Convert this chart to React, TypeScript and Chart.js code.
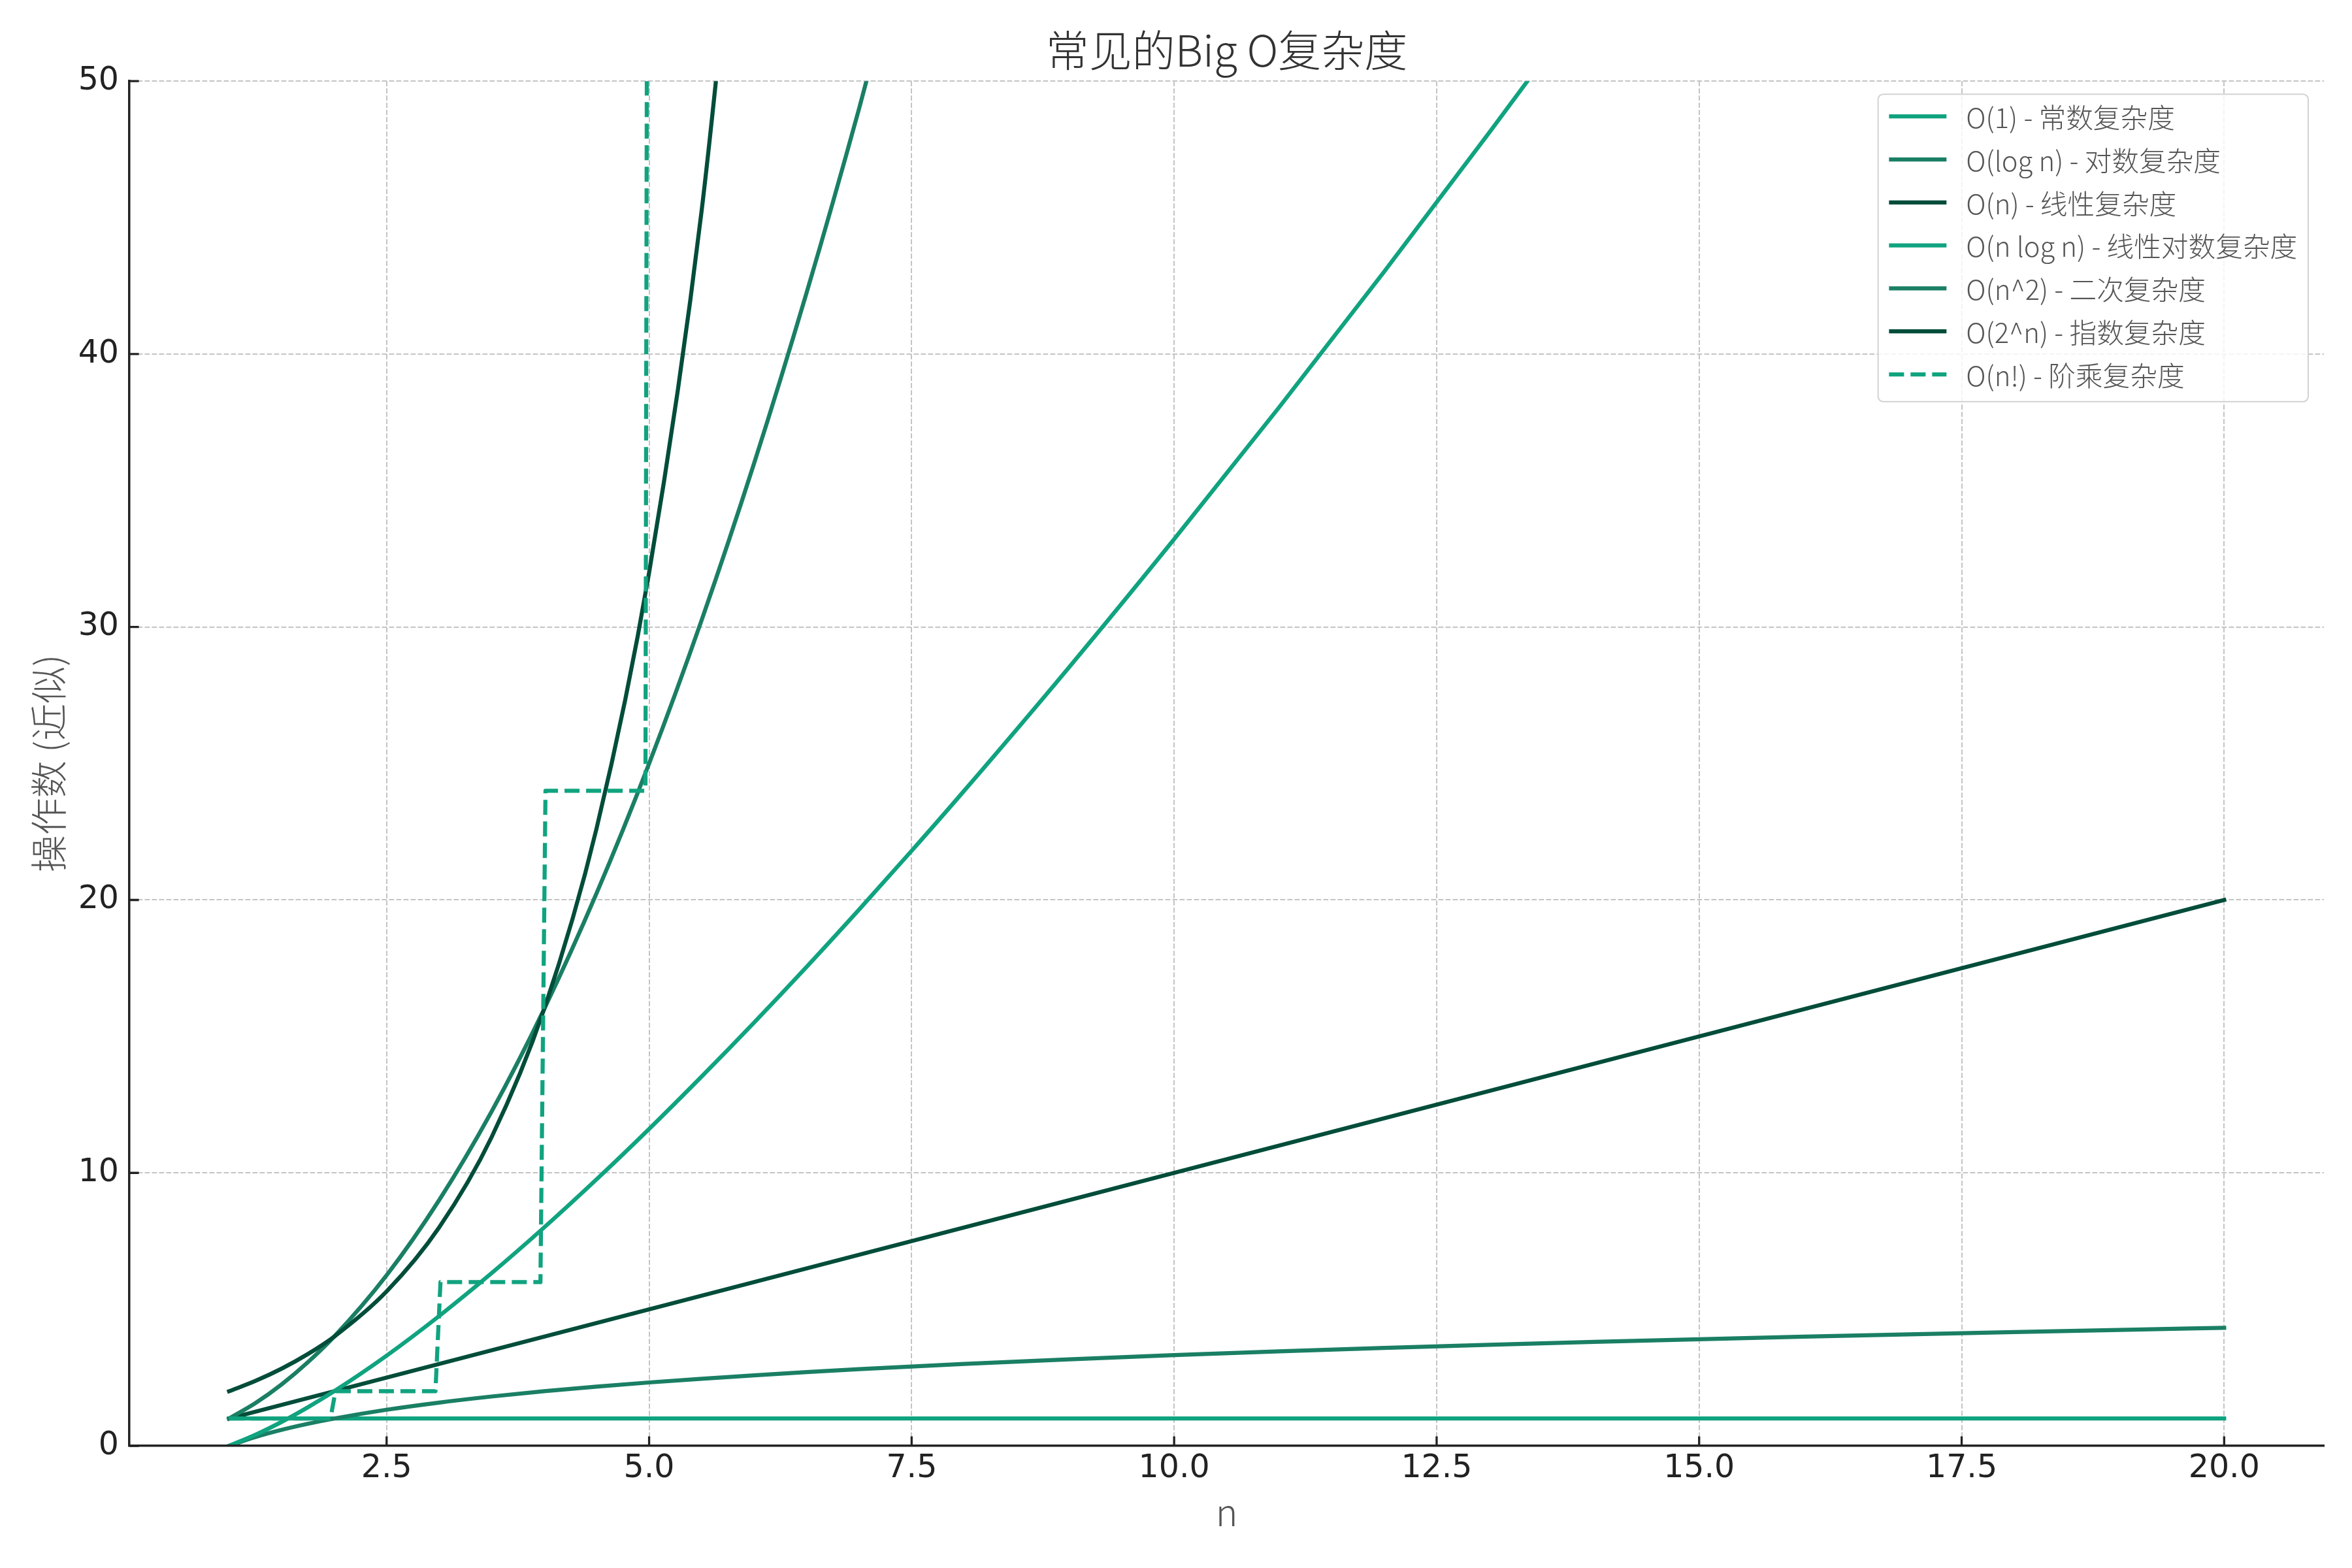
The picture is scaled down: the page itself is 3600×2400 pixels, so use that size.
import React, { useEffect, useRef } from 'react';
import { Chart, registerables } from 'chart.js';

Chart.register(...registerables);

// n positions at which the growing curves are sampled
const nGrid = [1, 1.25, 1.5, 1.75, 2, 2.5, 3, 3.5, 4, 4.5, 5, 5.5, 6, 6.5, 7, 7.5, 8, 9, 10, 11, 12, 13, 14, 15, 16, 17, 18, 19, 20];

// operation counts per complexity class
const constantN = [1, 20];
const constantOps = [1, 1];
const linearN = [1, 20];
const linearOps = [1, 20];
const logOps = [0, 0.322, 0.585, 0.807, 1, 1.322, 1.585, 1.807, 2, 2.17, 2.322, 2.459, 2.585, 2.7, 2.807, 2.907, 3, 3.17, 3.322, 3.459, 3.585, 3.7, 3.807, 3.907, 4, 4.087, 4.17, 4.248, 4.322];
const nLogNOps = [0, 0.403, 0.877, 1.413, 2, 3.305, 4.755, 6.326, 8, 9.765, 11.61, 13.53, 15.51, 17.55, 19.65, 21.8, 24, 28.53, 33.22, 38.05, 43.02, 48.11, 53.3];
const squareOps = [1, 1.563, 2.25, 3.063, 4, 6.25, 9, 12.25, 16, 20.25, 25, 30.25, 36, 42.25, 49, 56.25];
const expOps = [2, 2.378, 2.828, 3.364, 4, 5.657, 8, 11.31, 16, 22.63, 32, 45.25, 64];
const factorialN = [1, 1.965, 2.013, 2.965, 3.013, 3.965, 4.013, 4.965, 5.013];
const factorialOps = [1, 1, 2, 2, 6, 6, 24, 24, 120];

const seriesLabels = [
  'O(1) - 常数复杂度',
  'O(log n) - 对数复杂度',
  'O(n) - 线性复杂度',
  'O(n log n) - 线性对数复杂度',
  'O(n^2) - 二次复杂度',
  'O(2^n) - 指数复杂度',
  'O(n!) - 阶乘复杂度',
];

const xTicks = [2.5, 5, 7.5, 10, 12.5, 15, 17.5, 20];
const yTicks = [0, 10, 20, 30, 40, 50];

const titleText = '常见的Big O复杂度';
const xLabel = 'n';
const yLabel = '操作数 (近似)';

const palette = ['#10a37f', '#1a7f64', '#004d3a'];

const CJK = '"Noto Sans CJK SC", "Noto Sans", sans-serif';
const TICK_FONT = '"DejaVu Sans", sans-serif';

const pair = (xs: number[], ys: number[]) => ys.map((y, i) => ({ x: xs[i], y }));

// matplotlib-like inward tick marks on the left and bottom spines
const inwardTicks = {
  id: 'inwardTicks',
  afterDatasetsDraw(chart: any) {
    const { ctx, chartArea, scales } = chart;
    ctx.save();
    ctx.strokeStyle = '#222222';
    ctx.lineWidth = 3.3;
    ctx.beginPath();
    for (const t of scales.x.ticks) {
      const px = scales.x.getPixelForValue(t.value);
      ctx.moveTo(px, chartArea.bottom);
      ctx.lineTo(px, chartArea.bottom - 14.6);
    }
    for (const t of scales.y.ticks) {
      const py = scales.y.getPixelForValue(t.value);
      ctx.moveTo(chartArea.left, py);
      ctx.lineTo(chartArea.left + 14.6, py);
    }
    ctx.stroke();
    ctx.restore();
  },
};

// framed legend in the upper-right corner of the plot
const framedLegend = {
  id: 'framedLegend',
  afterDraw(chart: any) {
    const { ctx, chartArea } = chart;
    const items = chart.data.datasets;
    const fs = 41.7;
    ctx.save();
    ctx.font = `300 ${fs}px ${CJK}`;
    const textW = Math.max(...items.map((d: any) => ctx.measureText(d.label).width));
    const pad = 16.7;
    const handleLen = 88;
    const gap = 30;
    const rowH = 65.8;
    const right = chartArea.right - 24;
    const top = chartArea.top + 20;
    const boxW = pad + handleLen + gap + textW + pad;
    const boxH = rowH * items.length + 10;
    const left = right - boxW;

    ctx.beginPath();
    ctx.roundRect(left, top, boxW, boxH, 8);
    ctx.fillStyle = 'rgba(255,255,255,0.82)';
    ctx.fill();
    ctx.lineWidth = 2;
    ctx.strokeStyle = '#d2d2d2';
    ctx.stroke();

    items.forEach((d: any, i: number) => {
      const cy = top + 34 + i * rowH;
      ctx.beginPath();
      ctx.setLineDash(d.borderDash || []);
      ctx.lineCap = 'butt';
      ctx.lineWidth = d.borderWidth;
      ctx.strokeStyle = d.borderColor;
      ctx.moveTo(left + pad, cy);
      ctx.lineTo(left + pad + handleLen, cy);
      ctx.stroke();
      ctx.setLineDash([]);
      ctx.fillStyle = '#555555';
      ctx.textBaseline = 'middle';
      ctx.textAlign = 'left';
      ctx.fillText(d.label, left + pad + handleLen + gap, cy + 2);
    });
    ctx.restore();
  },
};

export default function App() {
  const canvasRef = useRef<HTMLCanvasElement | null>(null);

  useEffect(() => {
    document.body.style.margin = '0';
    const canvas = canvasRef.current;
    if (!canvas) return;

    const seriesPoints = [
      pair(constantN, constantOps),
      pair(nGrid, logOps),
      pair(linearN, linearOps),
      pair(nGrid, nLogNOps),
      pair(nGrid, squareOps),
      pair(nGrid, expOps),
      pair(factorialN, factorialOps),
    ];

    const datasets = seriesPoints.map((pts, i) => {
      const dashed = i === 6;
      return {
        label: seriesLabels[i],
        data: pts,
        borderColor: palette[i % 3],
        backgroundColor: palette[i % 3],
        borderWidth: 6.25,
        borderDash: dashed ? [23, 10] : [],
        borderCapStyle: dashed ? 'butt' : 'square',
        borderJoinStyle: 'round',
        pointRadius: 0,
        pointHoverRadius: 0,
        fill: false,
        cubicInterpolationMode: dashed ? 'default' : 'monotone',
        tension: 0,
        order: seriesPoints.length - i,
      };
    });

    const chart = new Chart(canvas, {
      type: 'line',
      data: { datasets } as any,
      plugins: [inwardTicks, framedLegend],
      options: {
        animation: false,
        responsive: false,
        maintainAspectRatio: false,
        devicePixelRatio: 1,
        layout: { padding: { left: 0, right: 43, top: 0, bottom: 0 } },
        plugins: {
          legend: { display: false },
          tooltip: { enabled: false },
          title: {
            display: true,
            fullSize: false,
            text: titleText,
            color: '#333333',
            font: { family: CJK, size: 66, weight: '300' as any },
            padding: { top: 37, bottom: 8 },
          },
        },
        scales: {
          x: {
            type: 'linear',
            min: 0.05,
            max: 20.95,
            afterBuildTicks: (scale: any) => {
              scale.ticks = xTicks.map((value) => ({ value }));
            },
            afterFit: (scale: any) => {
              scale.height = 187;
            },
            ticks: {
              color: '#222222',
              font: { family: TICK_FONT, size: 49 },
              padding: 6,
              maxRotation: 0,
              autoSkip: false,
              callback: (v: any) => Number(v).toFixed(1),
            },
            grid: { color: '#c4c4c4', lineWidth: 2, drawTicks: false },
            border: { display: true, color: '#222222', width: 3.5, dash: [7.7, 3.3], z: 1 },
            title: {
              display: true,
              text: xLabel,
              color: '#555555',
              font: { family: CJK, size: 57, weight: '300' as any },
              padding: { top: 0, bottom: 51 },
            },
          },
          y: {
            type: 'linear',
            min: 0,
            max: 50,
            afterBuildTicks: (scale: any) => {
              scale.ticks = yTicks.map((value) => ({ value }));
            },
            afterFit: (scale: any) => {
              scale.width = 198;
            },
            ticks: {
              color: '#222222',
              font: { family: TICK_FONT, size: 49 },
              padding: 16,
              autoSkip: false,
              callback: (v: any) => String(v),
            },
            grid: { color: '#c4c4c4', lineWidth: 2, drawTicks: false },
            border: { display: true, color: '#222222', width: 3.5, dash: [7.7, 3.3], z: 1 },
            title: {
              display: true,
              text: yLabel,
              color: '#555555',
              font: { family: CJK, size: 57, weight: '300' as any },
              padding: { top: 40, bottom: 0 },
            },
          },
        },
      } as any,
    });

    return () => chart.destroy();
  }, []);

  return (
    <canvas
      ref={canvasRef}
      width={3600}
      height={2400}
      style={{ display: 'block', width: '3600px', height: '2400px' }}
    />
  );
}
